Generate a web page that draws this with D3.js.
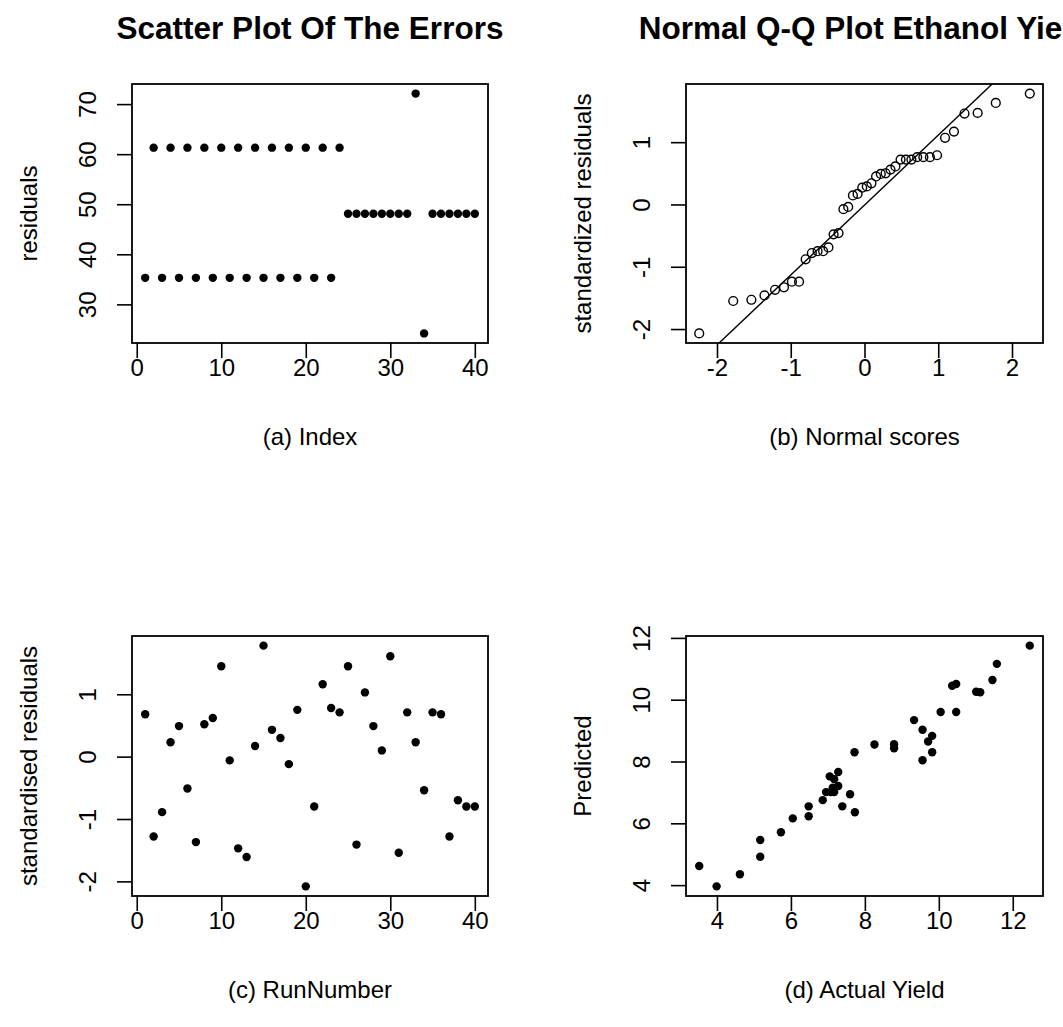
<!DOCTYPE html>
<html><head><meta charset="utf-8">
<script src="https://cdn.jsdelivr.net/npm/d3@7"></script>
<style>html,body{margin:0;padding:0;background:#fff;}svg{display:block;}</style>
</head><body>
<script>
// ---------- data ----------
const runIndex = [1,2,3,4,5,6,7,8,9,10,11,12,13,14,15,16,17,18,19,20,21,22,23,24,25,26,27,28,29,30,31,32,33,34,35,36,37,38,39,40];
const residuals = [35.3,61.3,35.3,61.3,35.3,61.3,35.3,61.3,35.3,61.3,35.3,61.3,35.3,61.3,35.3,61.3,35.3,61.3,35.3,61.3,35.3,61.3,35.3,61.3,48.1,48.1,48.1,48.1,48.1,48.1,48.1,48.1,72.1,24.2,48.1,48.1,48.1,48.1,48.1,48.1];

const normalScores = [-2.241,-1.780,-1.534,-1.356,-1.213,-1.092,-0.984,-0.887,-0.798,-0.714,-0.636,-0.561,-0.489,-0.419,-0.352,-0.286,-0.221,-0.157,-0.094,-0.031,0.031,0.094,0.157,0.221,0.286,0.352,0.419,0.489,0.561,0.636,0.714,0.798,0.887,0.984,1.092,1.213,1.356,1.534,1.780,2.241];
const sortedStdResiduals = [-2.07,-1.55,-1.53,-1.46,-1.37,-1.33,-1.24,-1.24,-0.88,-0.78,-0.75,-0.75,-0.69,-0.48,-0.46,-0.075,-0.04,0.145,0.17,0.27,0.29,0.34,0.45,0.49,0.50,0.56,0.61,0.72,0.72,0.72,0.76,0.76,0.76,0.79,1.07,1.17,1.46,1.47,1.63,1.78];
const qqLineIntercept = -0.01;
const qqLineSlope = 1.123;

const runNumber = runIndex;
const stdResiduals = [0.68,-1.28,-0.89,0.23,0.49,-0.51,-1.37,0.52,0.62,1.45,-0.06,-1.47,-1.61,0.17,1.78,0.43,0.30,-0.12,0.75,-2.08,-0.80,1.16,0.78,0.71,1.45,-1.41,1.03,0.49,0.10,1.61,-1.54,0.71,0.23,-0.54,0.71,0.68,-1.28,-0.70,-0.80,-0.80];

const actualYield = [3.52,3.99,4.62,5.17,5.17,5.73,6.05,6.48,6.48,6.86,6.95,7.08,7.17,7.05,7.17,7.28,7.28,7.39,7.60,7.73,7.72,8.26,8.79,8.79,9.33,9.56,9.56,9.71,9.82,9.82,10.05,10.47,10.36,10.47,11.01,11.12,11.45,11.57,12.46,7.13];
const predicted = [4.62,3.96,4.35,5.46,4.92,5.71,6.16,6.55,6.23,6.75,7.01,7.01,7.01,7.52,7.43,7.66,7.21,6.55,6.94,6.36,8.30,8.55,8.56,8.43,9.34,9.03,8.04,8.65,8.83,8.30,9.60,9.60,10.45,10.51,10.26,10.24,10.64,11.16,11.75,7.15];

const ticksA = {x:[0,10,20,30,40], y:[30,40,50,60,70]};
const ticksB = {x:[-2,-1,0,1,2], y:[-2,-1,0,1]};
const ticksC = {x:[0,10,20,30,40], y:[-2,-1,0,1]};
const ticksD = {x:[4,6,8,10,12], y:[4,6,8,10,12]};

// ---------- drawing ----------
const W = 1063, H = 1027;
const FONT = "'Liberation Sans', Arial, Helvetica, sans-serif";
const svg = d3.select("body").append("svg").attr("width", W).attr("height", H)
  .style("font-family", FONT);
svg.append("rect").attr("width", W).attr("height", H).attr("fill", "#fff");

function rDomain(vals){ // R-style 4% padding
  const [a,b] = d3.extent(vals); const p = (b-a)*0.04; return [a-p, b+p];
}

function panel(opt){
  const {left, top, width, height} = opt.box;
  const x = d3.scaleLinear().domain(rDomain(opt.xs)).range([left, left+width]);
  const y = d3.scaleLinear().domain(rDomain(opt.ys)).range([top+height, top]);
  const g = svg.append("g");

  // axes
  const ax = g.append("g").attr("transform", `translate(0,${top+height})`)
    .call(d3.axisBottom(x).tickValues(opt.ticks.x).tickSize(15).tickSizeOuter(0).tickFormat(d3.format("d")));
  ax.select(".domain").remove();
  ax.selectAll(".tick line").attr("stroke", "#000").attr("stroke-width", 1.6);
  ax.selectAll(".tick text").attr("y", 33).attr("dy", null)
    .attr("font-size", 24).attr("font-family", FONT).attr("fill", "#000")
    .text(d => d < 0 ? "-" + Math.abs(d) : String(d));

  const ay = g.append("g").attr("transform", `translate(${left},0)`)
    .call(d3.axisLeft(y).tickValues(opt.ticks.y).tickSize(15).tickSizeOuter(0));
  ay.select(".domain").remove();
  ay.selectAll(".tick line").attr("stroke", "#000").attr("stroke-width", 1.6);
  ay.selectAll(".tick text").attr("x", null).attr("dy", null)
    .attr("transform", "translate(-36,0) rotate(-90)")
    .attr("text-anchor", "middle")
    .attr("font-size", 24).attr("font-family", FONT).attr("fill", "#000")
    .text(d => d < 0 ? "-" + Math.abs(d) : String(d));

  // box
  g.append("rect").attr("x", left).attr("y", top).attr("width", width).attr("height", height)
    .attr("fill", "none").attr("stroke", "#000").attr("stroke-width", 1.8);

  // labels
  g.append("text").attr("x", left + width/2).attr("y", top + height + 102)
    .attr("text-anchor", "middle").attr("font-size", 24).text(opt.xlab);
  g.append("text").attr("transform", `translate(${left - 95},${top + height/2}) rotate(-90)`)
    .attr("text-anchor", "middle").attr("font-size", 24).text(opt.ylab);
  if (opt.title) {
    g.append("text").attr("x", left + width/2).attr("y", top - 45)
      .attr("text-anchor", "middle").attr("font-size", 31.5).attr("font-weight", "bold").text(opt.title);
  }

  // clip
  const cid = "clip" + Math.round(left) + "_" + Math.round(top);
  svg.append("clipPath").attr("id", cid).append("rect")
    .attr("x", left).attr("y", top).attr("width", width).attr("height", height);

  const pts = opt.xs.map((v,i) => [v, opt.ys[i]]);
  if (opt.line) {
    const [d0, d1] = x.domain();
    g.append("line").attr("clip-path", `url(#${cid})`)
      .attr("x1", x(d0)).attr("y1", y(opt.line.a + opt.line.b*d0))
      .attr("x2", x(d1)).attr("y2", y(opt.line.a + opt.line.b*d1))
      .attr("stroke", "#000").attr("stroke-width", 1.4);
  }
  g.append("g").selectAll("circle").data(pts).join("circle")
    .attr("cx", d => x(d[0])).attr("cy", d => y(d[1]))
    .attr("r", opt.open ? 4.4 : 4.2)
    .attr("fill", opt.open ? "none" : "#000")
    .attr("stroke", opt.open ? "#000" : "none")
    .attr("stroke-width", opt.open ? 1.4 : 0);
}

panel({box:{left:132, top:84, width:356, height:259}, xs:runIndex, ys:residuals, ticks:ticksA,
  xlab:"(a) Index", ylab:"residuals", title:"Scatter Plot Of The Errors"});
panel({box:{left:686, top:84, width:357, height:259}, xs:normalScores, ys:sortedStdResiduals, ticks:ticksB,
  xlab:"(b) Normal scores", ylab:"standardized residuals", title:"Normal Q-Q Plot Ethanol Yield",
  open:true, line:{a:qqLineIntercept, b:qqLineSlope}});
panel({box:{left:132, top:636, width:356, height:260}, xs:runNumber, ys:stdResiduals, ticks:ticksC,
  xlab:"(c) RunNumber", ylab:"standardised residuals"});
panel({box:{left:686, top:636, width:357, height:260}, xs:actualYield, ys:predicted, ticks:ticksD,
  xlab:"(d) Actual Yield", ylab:"Predicted"});
</script>
</body></html>
